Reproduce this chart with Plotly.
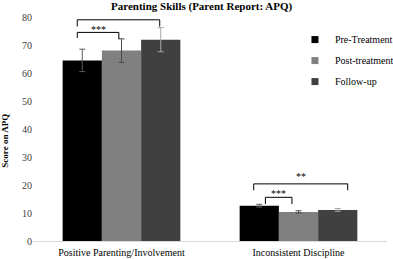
import plotly.graph_objects as go

categories = ["Positive Parenting/Involvement", "Inconsistent Discipline"]
series_names = ["Pre-Treatment", "Post-treatment", "Follow-up"]
pre_vals = [64.5, 12.6]
post_vals = [68.0, 10.4]
follow_vals = [71.9, 11.1]
pre_err = [4.0, 0.5]
post_err = [4.2, 0.4]
follow_err = [4.3, 0.5]
y_ticks = [0, 10, 20, 30, 40, 50, 60, 70, 80]

bar_colors = ["#000000", "#808080", "#404040"]
err_colors = ["#5a5a5a", "#4a4a4a", "#a6a6a6"]
SERIF = "Liberation Serif"

fig = go.Figure()
for name, vals, errs, c, ec in zip(series_names, [pre_vals, post_vals, follow_vals],
                                   [pre_err, post_err, follow_err], bar_colors, err_colors):
    fig.add_trace(go.Bar(
        x=categories, y=vals, name=name, marker=dict(color=c, line=dict(width=0)),
        error_y=dict(type="data", array=errs, color=ec, thickness=1, width=3),
        showlegend=False, legendgroup=name))
    fig.add_trace(go.Scatter(
        x=[None], y=[None], mode="markers", name=name, legendgroup=name,
        marker=dict(symbol="square", size=7, color=c)))

# significance brackets (x in category units, y in data units)
brackets = [
    # x0, x1, y_top, y_left_end, y_right_end, label, label_y
    (-0.25, -0.015, 74.5, 72.5, 72.1, "***", 75.6),
    (-0.25, 0.216, 79.0, 76.6, 76.6, "***", 80.2),
    (0.747, 1.278, 20.4, 18.1, 18.1, "**", 22.9),
    (0.813, 0.963, 15.6, 13.2, 13.2, "***", 16.9),
]
for x0, x1, yt, yl, yr, lab, ly in brackets:
    fig.add_shape(type="path", xref="x", yref="y",
                  path=f"M {x0} {yl} L {x0} {yt} L {x1} {yt} L {x1} {yr}",
                  line=dict(color="#000000", width=1))
    fig.add_annotation(x=(x0 + x1) / 2, y=ly, xref="x", yref="y", text=lab,
                       showarrow=False, font=dict(family=SERIF, size=10, color="#000000"))

fig.add_annotation(x=-0.079, y=0.448, xref="paper", yref="paper", text="<b>Score on APQ</b>",
                   textangle=-90, showarrow=False, xanchor="center", yanchor="middle",
                   font=dict(family=SERIF, size=9, color="#000000"))

fig.update_layout(
    width=393, height=259,
    margin=dict(l=33, r=6, t=17, b=18, autoexpand=False),
    paper_bgcolor="#ffffff", plot_bgcolor="#ffffff",
    barmode="group", bargap=0.335, bargroupgap=0,
    title=dict(text="<b>Parenting Skills (Parent Report: APQ)</b>", x=0.513, xanchor="center",
               y=0.992, yanchor="top", pad=dict(t=0),
               font=dict(family=SERIF, size=11, color="#000000")),
    font=dict(family=SERIF, size=10, color="#404040"),
    showlegend=True,
    legend=dict(x=0.74, y=0.964, xanchor="left", yanchor="top", bgcolor="rgba(0,0,0,0)",
                font=dict(family=SERIF, size=10, color="#000000"), tracegroupgap=2,
                itemwidth=30),
    xaxis=dict(showline=True, linecolor="#d9d9d9", linewidth=1, ticks="",
               tickfont=dict(family=SERIF, size=10, color="#000000"), showgrid=False,
               zeroline=False, ticklabelstandoff=2, automargin=False),
    yaxis=dict(range=[0, 80], tickvals=y_ticks, showgrid=False, zeroline=False,
               showline=False, ticks="", automargin=False,
               tickfont=dict(family=SERIF, size=10, color="#404040")),
)

fig.write_html("out.html", config={"displayModeBar": False},
               post_script="document.body.style.margin='0';")
